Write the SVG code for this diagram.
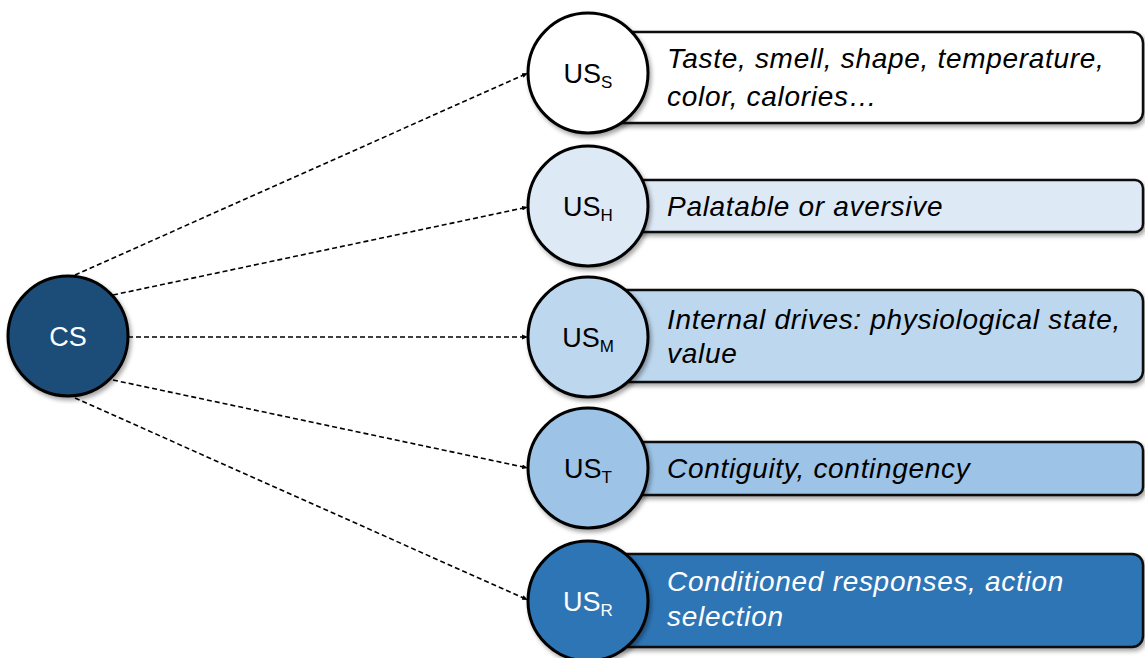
<svg xmlns="http://www.w3.org/2000/svg" width="1145" height="658" viewBox="0 0 1145 658">
<defs>
<marker id="ah" viewBox="0 0 10 10" refX="10" refY="5" markerWidth="6" markerHeight="6" orient="auto" markerUnits="userSpaceOnUse">
<path d="M0,1 L10,5 L0,9 z" fill="#000"/>
</marker>
<filter id="sh" x="-10%" y="-10%" width="130%" height="140%">
<feDropShadow dx="2" dy="3" stdDeviation="2" flood-color="#000" flood-opacity="0.35"/>
</filter>
<style>
.box{stroke:#111;stroke-width:2.5;filter:url(#sh)}
.circ{stroke:#000;stroke-width:3;filter:url(#sh)}
.us{font-family:"Liberation Sans",Arial,sans-serif;font-size:27px;text-anchor:middle}
.sub{font-size:17px}
.lab{font-family:"Liberation Sans",Arial,sans-serif;font-size:28px;font-style:italic;letter-spacing:0.7px}
.con{stroke:#000;stroke-width:1.6;stroke-dasharray:5,3;fill:none;marker-end:url(#ah)}
</style>
</defs>
<rect width="1145" height="658" fill="#fff"/>
<g id="connectors">
<line class="con" x1="75" y1="275" x2="528" y2="73"/>
<line class="con" x1="113" y1="295" x2="528" y2="207"/>
<line class="con" x1="128" y1="337" x2="528" y2="337"/>
<line class="con" x1="113" y1="380" x2="528" y2="468"/>
<line class="con" x1="75" y1="398" x2="528" y2="600"/>
</g>
<g id="cs">
<circle class="circ" cx="68" cy="336" r="60" fill="#1f4e79"/>
<text class="us" x="68" y="346" fill="#fff">CS</text>
</g>
<g id="us-s">
<rect class="box" x="590" y="32" width="553" height="91" rx="11" fill="#fff"/>
<circle class="circ" cx="588" cy="73" r="60" fill="#fff"/>
<text class="us" x="588" y="83" fill="#000">US<tspan class="sub" dy="5">S</tspan></text>
<text class="lab" x="667" y="68" fill="#000">Taste, smell, shape, temperature,</text>
<text class="lab" x="667" y="106" fill="#000">color, calories…</text>
</g>
<g id="us-h">
<rect class="box" x="590" y="180" width="553" height="52" rx="8" fill="#dde9f5"/>
<circle class="circ" cx="588" cy="206" r="60" fill="#dde9f5"/>
<text class="us" x="588" y="216" fill="#000">US<tspan class="sub" dy="5">H</tspan></text>
<text class="lab" x="667" y="216" fill="#000">Palatable or aversive</text>
</g>
<g id="us-m">
<rect class="box" x="590" y="290" width="553" height="92" rx="11" fill="#bdd7ee"/>
<circle class="circ" cx="588" cy="337" r="60" fill="#bdd7ee"/>
<text class="us" x="588" y="347" fill="#000">US<tspan class="sub" dy="5">M</tspan></text>
<text class="lab" x="667" y="329" fill="#000">Internal drives: physiological state,</text>
<text class="lab" x="667" y="363" fill="#000">value</text>
</g>
<g id="us-t">
<rect class="box" x="590" y="442" width="553" height="53" rx="8" fill="#9dc3e6"/>
<circle class="circ" cx="588" cy="468" r="60" fill="#9dc3e6"/>
<text class="us" x="588" y="478" fill="#000">US<tspan class="sub" dy="5">T</tspan></text>
<text class="lab" x="667" y="478" fill="#000">Contiguity, contingency</text>
</g>
<g id="us-r">
<rect class="box" x="590" y="554" width="553" height="93" rx="11" fill="#2e75b6"/>
<circle class="circ" cx="588" cy="601" r="60" fill="#2e75b6"/>
<text class="us" x="588" y="611" fill="#fff">US<tspan class="sub" dy="5">R</tspan></text>
<text class="lab" x="667" y="591" fill="#fff">Conditioned responses, action</text>
<text class="lab" x="667" y="626" fill="#fff">selection</text>
</g>
</svg>
